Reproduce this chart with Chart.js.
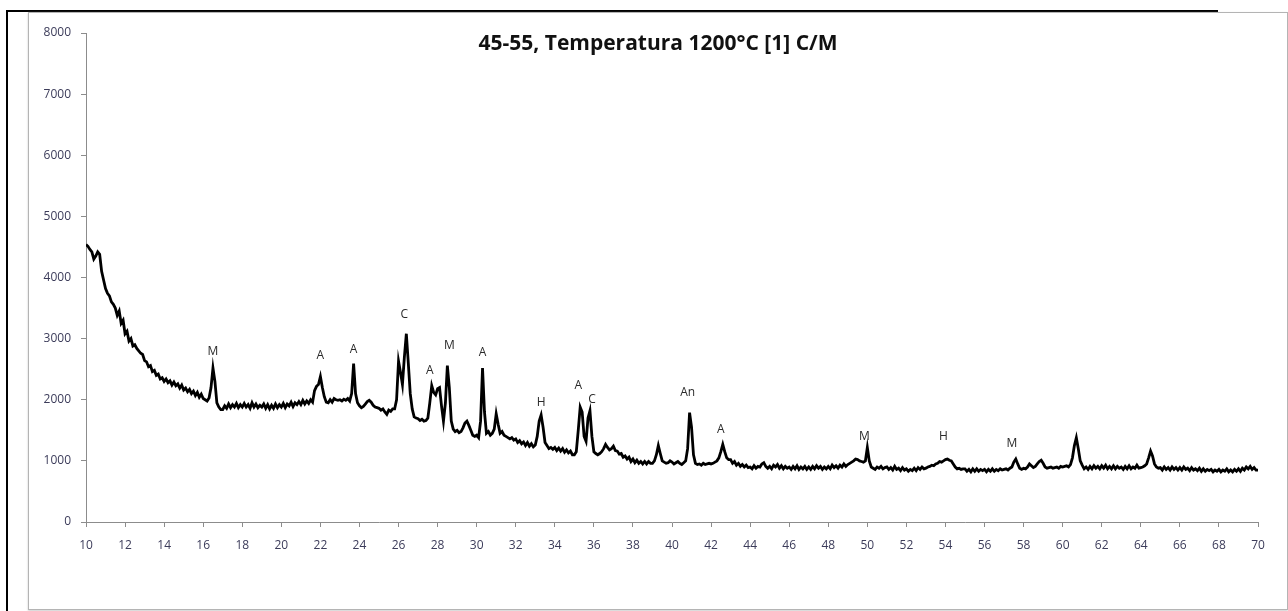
<!DOCTYPE html>
<html>
<head>
<meta charset="utf-8">
<script src="https://cdn.jsdelivr.net/npm/chart.js@4"></script>
<style>
    body { margin: 0; background: #fff; width: 1288px; height: 611px; overflow: hidden; position: relative; }
    #edge { position: absolute; left: 6px; top: 10px; width: 1210px; height: 620px; border-left: 2px solid #000; border-top: 2px solid #000; }
    #frame { position: absolute; left: 28px; top: 12px; width: 1258px; height: 596px; border: 1px solid #b4b4b4; box-shadow: 0 1px 2px #ccc; background: #fff; }
    #chart { position: absolute; left: 0; top: 0; }
</style>
</head>
<body>
<div id="edge"></div>
<div id="frame"><canvas id="chart" width="1258" height="596"></canvas></div>
<script>
// scan data: 2-theta from 10 to 70 in 0.1 steps, one row per degree
const startAngle = 10;
const angleStep = 0.1;
const counts = [
    4540, 4510, 4460, 4420, 4300, 4350, 4420, 4380, 4100, 3960,
    3820, 3740, 3700, 3600, 3560, 3500, 3380, 3450, 3250, 3300,
    3080, 3120, 2960, 3000, 2880, 2900, 2840, 2800, 2760, 2740,
    2640, 2620, 2540, 2560, 2460, 2480, 2400, 2420, 2340, 2360,
    2300, 2340, 2280, 2310, 2240, 2290, 2230, 2260, 2190, 2240,
    2160, 2190, 2130, 2170, 2100, 2140, 2070, 2120, 2040, 2090,
    2020, 2000, 1980, 2030, 2200, 2520, 2300, 1950, 1880, 1840,
    1840, 1900, 1860, 1930, 1870, 1920, 1880, 1940, 1870, 1920,
    1880, 1940, 1880, 1920, 1860, 1950, 1880, 1930, 1870, 1910,
    1880, 1930, 1860, 1920, 1850, 1910, 1860, 1930, 1870, 1920,
    1880, 1940, 1870, 1930, 1900, 1960, 1890, 1950, 1920, 1970,
    1920, 1990, 1930, 1980, 1940, 2000, 1960, 2150, 2220, 2250,
    2380, 2200, 2050, 1960, 1950, 2000, 1960, 2020, 2000, 1990,
    2000, 1980, 2010, 1990, 2020, 1980, 2100, 2590, 2100, 1950,
    1900, 1870, 1890, 1930, 1970, 1990, 1960, 1910, 1880, 1870,
    1860, 1830, 1850, 1800, 1760, 1830, 1810, 1850, 1850, 2000,
    2630, 2450, 2250, 2700, 3080, 2600, 2100, 1850, 1720, 1700,
    1690, 1660, 1680, 1650, 1660, 1700, 1950, 2230, 2120, 2080,
    2180, 2200, 1900, 1650, 1950, 2560, 2200, 1650, 1520, 1480,
    1500, 1460, 1480, 1540, 1620, 1650, 1580, 1500, 1420, 1400,
    1420, 1380, 1650, 2520, 1800, 1450, 1480, 1420, 1450, 1520,
    1770, 1600, 1450, 1480, 1420, 1400, 1380, 1360, 1380, 1340,
    1360, 1300, 1330, 1280, 1310, 1250, 1300, 1240, 1280, 1230,
    1260, 1400, 1650, 1750, 1550, 1300, 1250, 1200, 1220, 1190,
    1220, 1170, 1210, 1160, 1200, 1140, 1180, 1130, 1160, 1100,
    1100, 1150, 1500, 1880, 1800, 1400, 1320, 1700, 1820, 1400,
    1150, 1120, 1100, 1120, 1150, 1200, 1270, 1220, 1180, 1200,
    1240, 1170, 1160, 1110, 1120, 1060, 1080, 1030, 1060, 990,
    1030, 970, 1010, 960, 990, 950, 990, 950, 990, 960,
    960, 1000, 1100, 1250, 1120, 1000, 980, 960, 970, 1000,
    980, 950, 970, 990, 960, 940, 970, 1000, 1200, 1790,
    1550, 1100, 960, 940, 950, 930, 960, 940, 950, 960,
    950, 960, 980, 1000, 1050, 1150, 1270, 1150, 1050, 1020,
    1020, 960, 990, 930, 960, 910, 940, 900, 930, 890,
    900, 870, 920, 880, 910, 900, 950, 970, 910, 880,
    910, 870, 930, 900, 940, 880, 920, 870, 910, 880,
    900, 860, 910, 870, 920, 860, 900, 870, 910, 860,
    900, 860, 910, 870, 920, 880, 910, 860, 900, 870,
    910, 870, 930, 890, 920, 880, 930, 900, 950, 910,
    940, 960, 980, 1000, 1030, 1020, 1000, 990, 980, 1000,
    1220, 1000, 900, 880, 860, 900, 880, 910, 870, 890,
    900, 860, 890, 850, 910, 860, 880, 840, 890, 850,
    870, 830, 860, 840, 880, 840, 890, 860, 900, 870,
    880, 900, 910, 930, 920, 950, 960, 990, 980, 1000,
    1020, 1030, 1010, 1000, 950, 900, 870, 880, 860, 870,
    870, 830, 860, 820, 870, 830, 870, 830, 860, 840,
    860, 820, 860, 830, 870, 830, 860, 840, 870, 850,
    860, 870, 850, 880, 900, 980, 1030, 950, 880, 860,
    880, 870, 900, 950, 920, 890, 910, 950, 990, 1010,
    960, 900, 880, 890, 900, 880, 890, 900, 880, 910,
    900, 910, 920, 900, 940, 1050, 1250, 1380, 1200, 1000,
    930, 870, 900, 860, 910, 870, 920, 880, 910, 870,
    920, 880, 930, 870, 910, 870, 920, 870, 910, 880,
    900, 860, 910, 870, 920, 870, 900, 880, 930, 880,
    890, 900, 920, 950, 1050, 1160, 1080, 950, 900, 880,
    890, 850, 900, 860, 890, 850, 900, 860, 890, 850,
    890, 850, 900, 860, 880, 840, 890, 850, 870, 840,
    880, 830, 870, 830, 860, 840, 860, 820, 850, 830,
    860, 820, 850, 830, 870, 820, 850, 820, 860, 830,
    870, 830, 880, 850, 900, 870, 910, 860, 890, 850,
    850
];

// phase labels over the peaks
const peakNames = ['M', 'A', 'A', 'C', 'A', 'M', 'A', 'H', 'A', 'C', 'An', 'A', 'M', 'H', 'M'];
const peakAngles = [16.5, 22.0, 23.7, 26.3, 27.6, 28.6, 30.3, 33.3, 35.2, 35.9, 40.8, 42.5, 49.85, 53.9, 57.4];
const peakLabelCounts = [2780, 2720, 2815, 3390, 2470, 2880, 2770, 1950, 2225, 2000, 2110, 1520, 1390, 1390, 1290];

const xTicks = [10, 12, 14, 16, 18, 20, 22, 24, 26, 28, 30, 32, 34, 36, 38, 40, 42, 44, 46, 48, 50, 52, 54, 56, 58, 60, 62, 64, 66, 68, 70];
const yTicks = [0, 1000, 2000, 3000, 4000, 5000, 6000, 7000, 8000];
const chartTitle = '45-55, Temperatura 1200°C [1] C/M';

const points = counts.map((c, i) => ({ x: +(startAngle + i * angleStep).toFixed(1), y: c }));

const axisGray = '#8c8c8c';
const tickFont = { family: 'Open Sans', size: 12 };

const labelPlugin = {
    id: 'peakLabels',
    afterDraw(chart) {
        const ctx = chart.ctx;
        const xs = chart.scales.x;
        const ys = chart.scales.y;
        ctx.save();
        ctx.fillStyle = '#2a2a2a';
        ctx.font = '12px "Open Sans"';
        ctx.textAlign = 'center';
        ctx.textBaseline = 'middle';
        peakNames.forEach((name, i) => {
            ctx.fillText(name, xs.getPixelForValue(peakAngles[i]), ys.getPixelForValue(peakLabelCounts[i]));
        });
        ctx.font = 'bold 21px "Open Sans"';
        ctx.fillStyle = '#111';
        ctx.fillText(chartTitle, 629, 31);
        ctx.restore();
    }
};

new Chart(document.getElementById('chart').getContext('2d'), {
    type: 'line',
    data: {
        datasets: [{
            data: points,
            borderColor: '#000',
            borderWidth: 2.8,
            pointRadius: 0,
            tension: 0,
            fill: false
        }]
    },
    options: {
        responsive: false,
        animation: false,
        layout: { padding: { left: 0, right: 29, top: 20, bottom: 0 } },
        plugins: { legend: { display: false }, tooltip: { enabled: false } },
        scales: {
            x: {
                type: 'linear',
                min: 10,
                max: 70,
                afterBuildTicks: (s) => { s.ticks = xTicks.map(v => ({ value: v })); },
                afterFit: (s) => { s.height = 87; },
                grid: { drawOnChartArea: false, drawTicks: true, tickLength: 5, color: axisGray },
                border: { color: axisGray, width: 1 },
                ticks: { color: '#3c3c5a', font: tickFont, padding: 11, maxRotation: 0, autoSkip: false, callback: (v) => String(v) }
            },
            y: {
                min: 0,
                max: 8000,
                afterBuildTicks: (s) => { s.ticks = yTicks.map(v => ({ value: v })); },
                afterFit: (s) => { s.width = 57; },
                grid: { drawOnChartArea: false, drawTicks: true, tickLength: 5, color: axisGray },
                border: { color: axisGray, width: 1 },
                ticks: { color: '#3c3c5a', font: tickFont, padding: 10, callback: (v) => String(v) }
            }
        }
    },
    plugins: [labelPlugin]
});
</script>
</body>
</html>
